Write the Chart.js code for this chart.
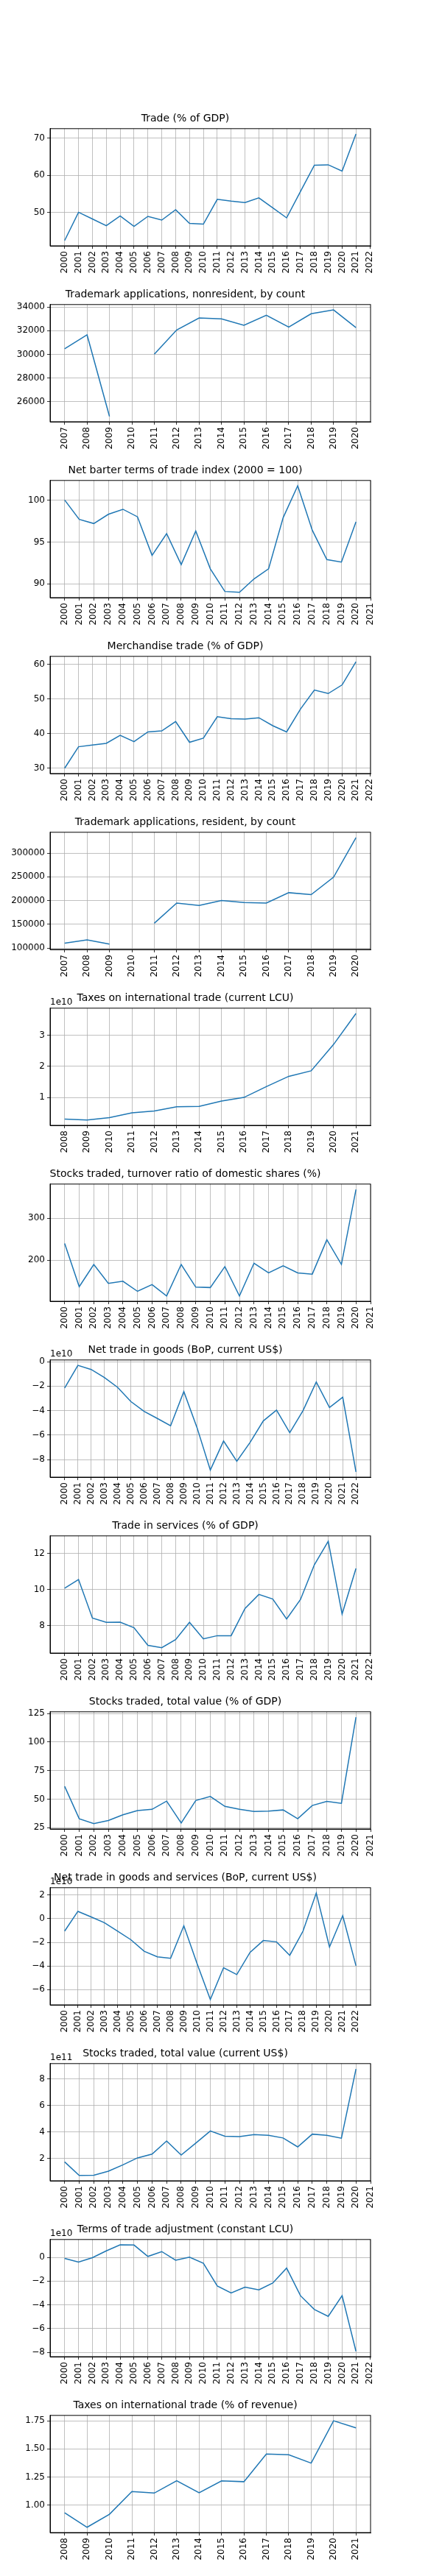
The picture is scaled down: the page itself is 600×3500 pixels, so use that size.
<!DOCTYPE html>
<html><head><meta charset="utf-8">
<script src="https://cdn.jsdelivr.net/npm/chart.js@4"></script>
<style>body{margin:0;background:#fff;width:600px;height:3500px;position:relative}
.p{position:absolute;left:0;width:600px;height:300px}</style></head><body>
<script>
const yrs00_22 = [2000,2001,2002,2003,2004,2005,2006,2007,2008,2009,2010,2011,2012,2013,2014,2015,2016,2017,2018,2019,2020,2021,2022];
const yrs00_21 = yrs00_22.slice(0,22);
const yrs07_20 = [2007,2008,2009,2010,2011,2012,2013,2014,2015,2016,2017,2018,2019,2020];
const yrs08_21 = [2008,2009,2010,2011,2012,2013,2014,2015,2016,2017,2018,2019,2020,2021];
const sc = (arr,f)=>arr.map(v=>v===null?null:v*f);

const tradeGDP = [42.4,50,48.2,46.4,49.0,46.2,48.9,47.9,50.7,47.0,46.8,53.5,53.0,52.6,53.9,51.2,48.5,55.6,62.7,62.8,61.1,71.1,null];
const tmNonres = [30466,31650,24730,null,30010,32070,33085,33000,32460,33310,32315,33440,33770,32270];
const barter = [100.0,97.7,97.2,98.3,98.9,98.0,93.4,96.0,92.3,96.3,91.8,89.1,89.0,90.6,91.8,97.9,101.7,96.4,92.9,92.6,97.4,null];
const merch = [30.0,36.2,36.7,37.2,39.5,37.7,40.5,40.8,43.5,37.5,38.7,44.9,44.3,44.2,44.6,42.3,40.5,47.1,52.6,51.6,54.1,60.8,null];
const tmRes = [110400,117100,108300,null,152300,194800,189600,200000,195900,194800,216600,212400,249200,332600];
const taxLCU = sc([0.30,0.27,0.35,0.50,0.56,0.70,0.71,0.88,1.0,1.35,1.68,1.86,2.71,3.71],1e10);
const turnover = [240,137,190,145,150,126,142,115,190,136,135,185,115,193,170,187,170,167,249,190,369,null];
const netGoods = sc([-2.16,-0.3,-0.64,-1.3,-2.1,-3.26,-4.06,-4.64,-5.24,-2.44,-5.4,-8.86,-6.48,-8.14,-6.6,-4.84,-3.96,-5.8,-4.0,-1.66,-3.74,-2.9,-9.0],1e10);
const services = [10.08,10.56,8.42,8.18,8.19,7.88,6.9,6.77,7.22,8.18,7.26,7.44,7.44,8.95,9.73,9.48,8.37,9.45,11.38,12.69,8.64,11.18,null];
const stocksGDP = [61.2,32.9,28.6,31.4,36.3,40.0,41.1,48.3,29.1,48.8,52.4,43.7,41.1,39.3,39.6,40.6,32.9,44.5,48.1,46.4,121.8,null];
const netGS = sc([-1.05,0.62,0.15,-0.34,-1.05,-1.78,-2.75,-3.23,-3.35,-0.6,-3.8,-6.84,-4.15,-4.73,-2.85,-1.85,-1.96,-3.1,-1.05,2.17,-2.4,0.26,-3.98],1e10);
const stocksUSD = sc([1.74,0.72,0.74,1.04,1.52,2.04,2.33,3.31,2.26,3.15,4.07,3.67,3.65,3.8,3.74,3.54,2.87,3.83,3.74,3.52,8.74,null],1e11);
const totAdj = sc([-0.08,-0.39,-0.02,0.55,1.06,1.04,0.08,0.49,-0.24,0.02,-0.49,-2.41,-3.0,-2.51,-2.73,-2.16,-0.9,-3.23,-4.39,-4.97,-3.23,-7.92,null],1e10);
const taxRev = [0.932,0.803,0.919,1.121,1.107,1.217,1.110,1.215,1.208,1.454,1.447,1.373,1.75,1.686];

const panels = [
 {title:'Trade (% of GDP)', x:yrs00_22, y:tradeGDP, ticks:[50,60,70], exp:0, dec:0},
 {title:'Trademark applications, nonresident, by count', x:yrs07_20, y:tmNonres, ticks:[26000,28000,30000,32000,34000], exp:0, dec:0},
 {title:'Net barter terms of trade index (2000 = 100)', x:yrs00_21, y:barter, ticks:[90,95,100], exp:0, dec:0},
 {title:'Merchandise trade (% of GDP)', x:yrs00_22, y:merch, ticks:[30,40,50,60], exp:0, dec:0},
 {title:'Trademark applications, resident, by count', x:yrs07_20, y:tmRes, ticks:[100000,150000,200000,250000,300000], exp:0, dec:0},
 {title:'Taxes on international trade (current LCU)', x:yrs08_21, y:taxLCU, ticks:[1e10,2e10,3e10], exp:10, dec:0},
 {title:'Stocks traded, turnover ratio of domestic shares (%)', x:yrs00_21, y:turnover, ticks:[200,300], exp:0, dec:0},
 {title:'Net trade in goods (BoP, current US$)', x:yrs00_22, y:netGoods, ticks:[-8e10,-6e10,-4e10,-2e10,0], exp:10, dec:0},
 {title:'Trade in services (% of GDP)', x:yrs00_22, y:services, ticks:[8,10,12], exp:0, dec:0},
 {title:'Stocks traded, total value (% of GDP)', x:yrs00_21, y:stocksGDP, ticks:[25,50,75,100,125], exp:0, dec:0},
 {title:'Net trade in goods and services (BoP, current US$)', x:yrs00_22, y:netGS, ticks:[-6e10,-4e10,-2e10,0,2e10], exp:10, dec:0},
 {title:'Stocks traded, total value (current US$)', x:yrs00_21, y:stocksUSD, ticks:[2e11,4e11,6e11,8e11], exp:11, dec:0},
 {title:'Terms of trade adjustment (constant LCU)', x:yrs00_22, y:totAdj, ticks:[-8e10,-6e10,-4e10,-2e10,0], exp:10, dec:0},
 {title:'Taxes on international trade (% of revenue)', x:yrs08_21, y:taxRev, ticks:[1.0,1.25,1.5,1.75], exp:0, dec:2},
];

const FONT = 'DejaVu Sans';
const offsetPlugin = {id:'offs', afterDraw(c){
  const a=c.chartArea, ctx=c.ctx; ctx.save();
  ctx.strokeStyle='#000'; ctx.lineWidth=1; ctx.strokeRect(a.left,a.top,a.right-a.left,a.bottom-a.top);
  const e = c.options.plugins.offs.exp;
  if(e){ ctx.font='12px "'+FONT+'"'; ctx.fillStyle='#000'; ctx.textAlign='left'; ctx.textBaseline='bottom';
    ctx.fillText('1e'+e, a.left, a.top-2); }
  ctx.restore();
}};

panels.forEach((p,i)=>{
  const d=document.createElement('div'); d.className='p'; d.style.top=(127+i*239)+'px';
  const cv=document.createElement('canvas'); d.appendChild(cv); document.body.appendChild(d);
  const xs=[], vs=[];
  p.x.forEach((x,k)=>{ if(p.y[k]!==null){xs.push(x); vs.push(p.y[k]);} });
  const xmin=Math.min(...xs), xmax=Math.max(...xs), xs5=(xmax-xmin)*0.05;
  const ymin=Math.min(...vs), ymax=Math.max(...vs), ys5=(ymax-ymin)*0.05;
  const div=Math.pow(10,p.exp);
  new Chart(cv,{type:'line',
    data:{datasets:[{data:p.x.map((x,k)=>({x:x,y:p.y[k]})), borderColor:'#1f77b4', borderWidth:1.5,
      pointRadius:0, fill:false, tension:0, spanGaps:false}]},
    plugins:[offsetPlugin],
    options:{responsive:true, maintainAspectRatio:false, animation:false,
      layout:{padding:{left:0,right:97,top:0,bottom:0}},
      plugins:{legend:{display:false}, tooltip:{enabled:false}, offs:{exp:p.exp},
        title:{display:true,text:p.title,color:'#000',font:{family:FONT,size:14,weight:'normal'},padding:{top:26,bottom:5}}},
      scales:{
        x:{type:'linear',min:xmin-xs5,max:xmax+xs5,
          afterBuildTicks(s){s.ticks=p.x.map(v=>({value:v}));},
          afterFit(s){s.height=93;},
          ticks:{autoSkip:false,maxRotation:90,minRotation:90,color:'#000',font:{family:FONT,size:12},callback:v=>String(v)},
          grid:{color:'#b0b0b0',lineWidth:0.8,tickLength:4,tickColor:'#000'},
          border:{display:true,color:'#000',width:1}},
        y:{type:'linear',min:ymin-ys5,max:ymax+ys5,
          afterBuildTicks(s){s.ticks=p.ticks.filter(v=>v>=s.min&&v<=s.max).map(v=>({value:v}));},
          afterFit(s){s.width=68;},
          ticks:{color:'#000',font:{family:FONT,size:12},callback:v=>{const t=v/div; return (t<0?'\u2212':'')+Math.abs(t).toFixed(p.dec);}},
          grid:{color:'#b0b0b0',lineWidth:0.8,tickLength:4,tickColor:'#000'},
          border:{display:true,color:'#000',width:1}}
      }
    }});
});
</script>
</body></html>
